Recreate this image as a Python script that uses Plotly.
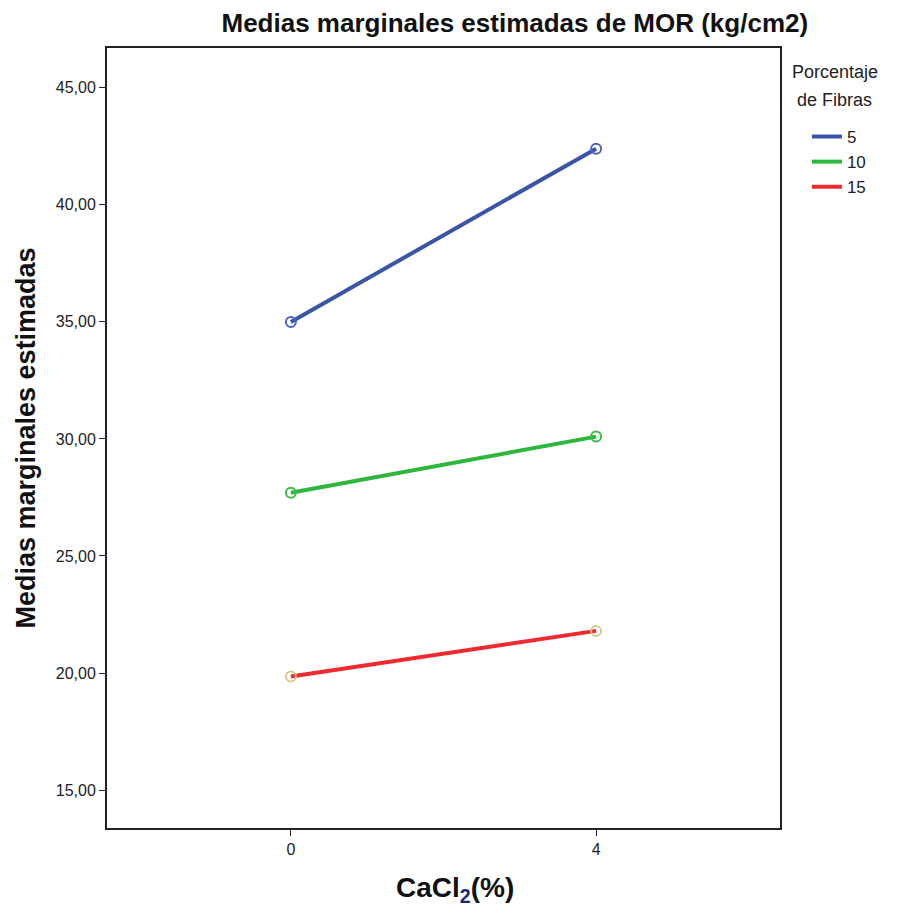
import plotly.graph_objects as go

cacl2 = [0, 4]
series_names = ["5", "10", "15"]
vals_5 = [35.0, 42.4]
vals_10 = [27.7, 30.1]
vals_15 = [19.85, 21.8]
line_colors = ["#3a55a8", "#2db83d", "#ee2a30"]
marker_colors = ["#4a63c0", "#3cbd4a", "#d8cc8a"]
yticks = [15, 20, 25, 30, 35, 40, 45]
ytick_text = ["15,00", "20,00", "25,00", "30,00", "35,00", "40,00", "45,00"]
legend_title_lines = ["Porcentaje", "de Fibras"]

fig = go.Figure()
for name, vals, lc, mc in zip(series_names, [vals_5, vals_10, vals_15], line_colors, marker_colors):
    fig.add_trace(go.Scatter(
        x=cacl2, y=vals, name=name, mode="lines+markers", showlegend=False,
        line=dict(color=lc, width=4),
        marker=dict(symbol="circle-open", size=10, color=mc, line=dict(width=2, color=mc)),
    ))
for name, lc in zip(series_names, line_colors):
    fig.add_trace(go.Scatter(
        x=[None], y=[None], name=name, mode="lines",
        line=dict(color=lc, width=4),
    ))

font = "Liberation Sans, Arial, sans-serif"
annotations = []
for txt, yy in zip(legend_title_lines, [0.969, 0.933]):
    annotations.append(dict(text=txt, xref="paper", yref="paper", x=1.0817, y=yy,
                            xanchor="center", yanchor="middle", showarrow=False,
                            font=dict(size=18, color="#222222")))
annotations.append(dict(text="<b>CaCl<sub><span style='color:#1a2a7a'>2</span></sub>(%)</b>",
                        xref="paper", yref="paper", x=0.517, y=-0.079,
                        xanchor="center", yanchor="middle", showarrow=False,
                        font=dict(size=28, color="#111111")))

fig.update_layout(
    width=905, height=924,
    paper_bgcolor="white", plot_bgcolor="white",
    margin=dict(l=99, r=133, t=40, b=104),
    font=dict(family=font, color="#222222", size=16),
    title=dict(text="<b>Medias marginales estimadas de MOR (kg/cm2)</b>",
               x=0.560, xanchor="center", y=0.984, yanchor="middle",
               font=dict(size=26, color="#111111")),
    legend=dict(x=1.040, xanchor="left", y=0.909, yanchor="top",
                font=dict(size=17), itemwidth=30, tracegroupgap=0,
                bgcolor="rgba(0,0,0,0)"),
    annotations=annotations,
    xaxis=dict(range=[-2.41, 6.41], tickvals=[0, 4], ticktext=["0", "4"],
               showgrid=False, zeroline=False, showline=True, linecolor="#222222",
               linewidth=2, mirror=True, ticks="outside", ticklen=6, tickcolor="#222222",
               tickfont=dict(size=16)),
    yaxis=dict(range=[13.38, 46.7], tickvals=yticks, ticktext=ytick_text,
               showgrid=False, zeroline=False, showline=True, linecolor="#222222",
               linewidth=2, mirror=True, ticks="outside", ticklen=6, tickcolor="#222222",
               tickfont=dict(size=16),
               title=dict(text="<b>Medias marginales estimadas</b>",
                          font=dict(size=27, color="#111111"), standoff=12)),
)
fig.write_html("out.html")
